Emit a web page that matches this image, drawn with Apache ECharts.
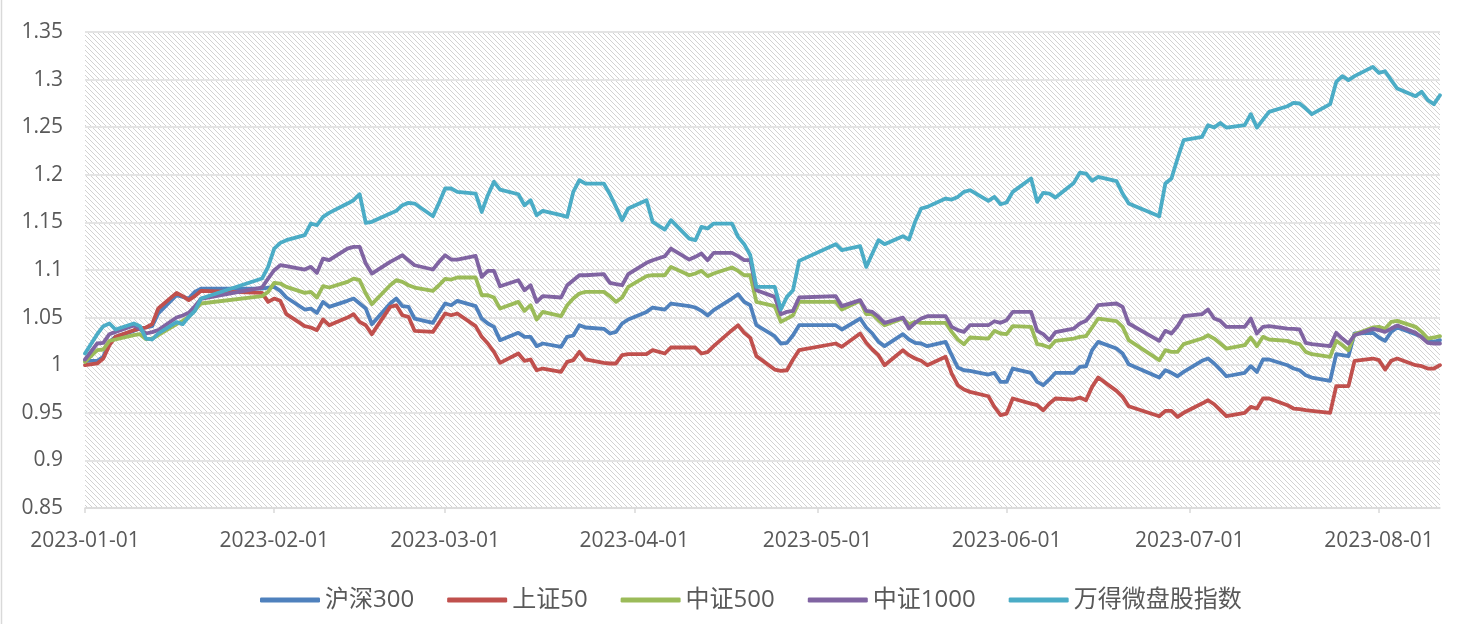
<!DOCTYPE html>
<html>
<head>
<meta charset="utf-8">
<script src="https://cdn.jsdelivr.net/npm/echarts@6/dist/echarts.min.js"></script>
<style>
html,body{margin:0;padding:0;background:#fff;}
#chart{width:1461px;height:624px;}
</style>
</head>
<body>
<div id="chart"></div>
<script>
const dates = [
'2023-01-01','2023-01-03','2023-01-04','2023-01-05','2023-01-06','2023-01-09','2023-01-10','2023-01-11','2023-01-12','2023-01-13','2023-01-16','2023-01-17','2023-01-18','2023-01-19','2023-01-20','2023-01-30','2023-01-31',
'2023-02-01','2023-02-02','2023-02-03','2023-02-06','2023-02-07','2023-02-08','2023-02-09','2023-02-10','2023-02-13','2023-02-14','2023-02-15','2023-02-16','2023-02-17','2023-02-20','2023-02-21','2023-02-22','2023-02-23','2023-02-24','2023-02-27','2023-02-28',
'2023-03-01','2023-03-02','2023-03-03','2023-03-06','2023-03-07','2023-03-08','2023-03-09','2023-03-10','2023-03-13','2023-03-14','2023-03-15','2023-03-16','2023-03-17','2023-03-20','2023-03-21','2023-03-22','2023-03-23','2023-03-24','2023-03-27','2023-03-28','2023-03-29','2023-03-30','2023-03-31',
'2023-04-03','2023-04-04','2023-04-06','2023-04-07','2023-04-10','2023-04-11','2023-04-12','2023-04-13','2023-04-14','2023-04-17','2023-04-18','2023-04-19','2023-04-20','2023-04-21','2023-04-24','2023-04-25','2023-04-26','2023-04-27','2023-04-28',
'2023-05-04','2023-05-05','2023-05-08','2023-05-09','2023-05-10','2023-05-11','2023-05-12','2023-05-15','2023-05-16','2023-05-17','2023-05-18','2023-05-19','2023-05-22','2023-05-23','2023-05-24','2023-05-25','2023-05-26','2023-05-29','2023-05-30','2023-05-31',
'2023-06-01','2023-06-02','2023-06-05','2023-06-06','2023-06-07','2023-06-08','2023-06-09','2023-06-12','2023-06-13','2023-06-14','2023-06-15','2023-06-16','2023-06-19','2023-06-20','2023-06-21','2023-06-26','2023-06-27','2023-06-28','2023-06-29','2023-06-30',
'2023-07-03','2023-07-04','2023-07-05','2023-07-06','2023-07-07','2023-07-10','2023-07-11','2023-07-12','2023-07-13','2023-07-14','2023-07-17','2023-07-18','2023-07-19','2023-07-20','2023-07-21','2023-07-24','2023-07-25','2023-07-26','2023-07-27','2023-07-28','2023-07-31',
'2023-08-01','2023-08-02','2023-08-03','2023-08-04','2023-08-07','2023-08-08','2023-08-09','2023-08-10','2023-08-11'
];

const seriesNames = ['沪深300','上证50','中证500','中证1000','万得微盘股指数'];

const hs300 = [
1.0046,1.0046,1.0088,1.0245,1.0298,1.0361,1.0385,1.0396,1.041,1.0543,1.0735,1.0718,1.07,1.077,1.0805,1.0805,1.0816,
1.0823,1.0781,1.0711,1.0585,1.0595,1.055,1.0665,1.0613,1.0676,1.07,1.0648,1.0595,1.0431,1.0648,1.07,1.062,1.0613,1.049,1.0445,1.055,
1.0648,1.063,1.0676,1.062,1.049,1.0438,1.0403,1.0263,1.034,1.0298,1.0298,1.02,1.0228,1.0193,1.0298,1.0312,1.042,1.0396,1.0382,1.0333,1.035,1.0438,1.048,
1.056,1.0606,1.0585,1.0648,1.062,1.0606,1.0571,1.0522,1.0578,1.07,1.0746,1.0665,1.063,1.042,1.0305,1.0228,1.0235,1.0315,1.042,
1.042,1.0375,1.049,1.0396,1.0333,1.0245,1.02,1.0326,1.027,1.0235,1.0228,1.02,1.0245,1.0105,0.9975,0.9947,0.994,0.9902,0.992,0.9825,
0.9825,0.9965,0.992,0.9825,0.979,0.985,0.992,0.992,0.9982,0.9989,1.0158,1.0245,1.0175,1.0123,1.001,0.987,0.9947,0.992,0.9884,0.993,
1.0046,1.007,1.0018,0.9954,0.9884,0.992,0.999,0.993,1.006,1.006,1.0,0.9965,0.9947,0.9895,0.987,0.9835,1.0116,1.0105,1.0095,1.0333,1.034,
1.0291,1.0256,1.035,1.0396,1.0326,1.0298,1.0263,1.0245,1.0263
];

const sz50 = [
1.0,1.0018,1.007,1.021,1.0298,1.0368,1.0385,1.0396,1.0431,1.0595,1.076,1.0725,1.0683,1.0725,1.0781,1.076,1.0665,
1.07,1.0676,1.0536,1.041,1.0396,1.0368,1.048,1.042,1.05,1.0536,1.0455,1.042,1.0326,1.0613,1.063,1.0525,1.0508,1.0361,1.035,1.0445,
1.0543,1.0525,1.0543,1.041,1.0298,1.0228,1.014,1.0025,1.0123,1.0046,1.006,0.9947,0.9965,0.993,1.0035,1.0053,1.014,1.006,1.0025,1.0018,1.0018,1.0105,1.0116,
1.0116,1.0158,1.0123,1.0186,1.0186,1.0186,1.0123,1.0137,1.02,1.0368,1.042,1.034,1.0287,1.0095,0.9954,0.994,0.9947,1.006,1.0158,
1.0228,1.0193,1.0333,1.0235,1.0165,1.0105,1.0,1.0158,1.0105,1.007,1.0046,1.0,1.0088,0.9912,0.979,0.9744,0.972,0.9674,0.9562,0.9475,
0.9492,0.965,0.9597,0.958,0.9527,0.9597,0.965,0.9639,0.966,0.9632,0.9772,0.987,0.973,0.9667,0.9569,0.9464,0.952,0.952,0.9457,0.95,
0.9597,0.9632,0.959,0.9527,0.9464,0.95,0.9562,0.9545,0.965,0.965,0.958,0.9545,0.9538,0.9527,0.952,0.95,0.978,0.978,0.978,1.0046,1.007,
1.0053,0.9954,1.0046,1.007,1.0,0.999,0.9965,0.9965,1.0
];

const zz500 = [
1.0035,1.0158,1.0165,1.0256,1.027,1.0315,1.0326,1.0273,1.028,1.0315,1.0431,1.0466,1.0508,1.0578,1.0648,1.0725,1.077,
1.0865,1.0858,1.0823,1.076,1.077,1.0711,1.083,1.0816,1.0875,1.091,1.0893,1.0753,1.0641,1.084,1.0893,1.0875,1.084,1.0816,1.0781,1.084,
1.0907,1.09,1.0921,1.0921,1.0735,1.0735,1.0711,1.0595,1.0665,1.0571,1.063,1.048,1.056,1.0515,1.063,1.07,1.0753,1.077,1.077,1.0725,1.0665,1.0711,1.0823,
1.0935,1.0945,1.0945,1.1033,1.0945,1.0963,1.0991,1.0935,1.0963,1.1026,1.0991,1.0945,1.0945,1.0665,1.062,1.0455,1.049,1.0525,1.0665,
1.0665,1.0585,1.0676,1.0536,1.0536,1.0473,1.042,1.049,1.0431,1.0455,1.0445,1.0445,1.0445,1.035,1.027,1.0221,1.0291,1.028,1.0361,1.0333,
1.0326,1.041,1.0403,1.0221,1.021,1.0186,1.0256,1.028,1.0298,1.0305,1.0396,1.049,1.0462,1.0403,1.0263,1.0053,1.0158,1.014,1.014,1.0221,
1.028,1.0315,1.028,1.0228,1.0175,1.021,1.0291,1.02,1.0298,1.027,1.0256,1.0235,1.0221,1.014,1.0116,1.0088,1.0256,1.021,1.0158,1.0326,1.0396,
1.0403,1.0382,1.0455,1.0466,1.0403,1.035,1.028,1.0291,1.0305
];

const zz1000 = [
1.006,1.0228,1.0235,1.0326,1.035,1.0417,1.0378,1.0333,1.0347,1.0368,1.0501,1.0522,1.055,1.062,1.0697,1.0816,1.091,
1.0998,1.105,1.104,1.1005,1.1033,1.097,1.112,1.1103,1.1225,1.1243,1.1243,1.1068,1.0963,1.1085,1.112,1.1155,1.1103,1.105,1.1005,1.1085,
1.1155,1.111,1.111,1.1148,1.0928,1.0991,1.0991,1.083,1.0893,1.0788,1.084,1.0665,1.0725,1.0711,1.084,1.0893,1.0945,1.0945,1.0956,1.0865,1.0851,1.084,1.0956,
1.1075,1.1103,1.1145,1.1225,1.111,1.1138,1.1173,1.1103,1.118,1.118,1.1145,1.1103,1.1103,1.0788,1.0718,1.0536,1.056,1.0571,1.0711,
1.0725,1.062,1.0683,1.0571,1.056,1.0508,1.0445,1.05,1.0385,1.0445,1.049,1.0515,1.0515,1.0403,1.0368,1.035,1.042,1.042,1.0462,1.0445,
1.0473,1.056,1.056,1.0361,1.0326,1.0263,1.0347,1.0385,1.0438,1.0466,1.0543,1.063,1.0648,1.0613,1.0438,1.0256,1.0361,1.0333,1.041,1.0515,
1.0536,1.0585,1.049,1.0466,1.0403,1.0403,1.049,1.0333,1.0403,1.041,1.0385,1.0382,1.0375,1.0235,1.0221,1.02,1.034,1.028,1.0228,1.0315,1.0382,
1.0368,1.035,1.0385,1.0417,1.034,1.0291,1.0235,1.0228,1.0228
];

const microCap = [
1.0123,1.0326,1.041,1.0438,1.0375,1.0438,1.041,1.028,1.027,1.0333,1.0452,1.0431,1.0508,1.0571,1.07,1.091,1.1033,
1.1225,1.1285,1.1313,1.1366,1.1488,1.147,1.1558,1.16,1.1698,1.1733,1.1796,1.1495,1.1506,1.1593,1.1621,1.1681,1.1705,1.1698,1.1565,1.1705,
1.1856,1.1856,1.1821,1.1803,1.161,1.1786,1.1926,1.1845,1.1796,1.168,1.1733,1.1576,1.1621,1.1576,1.1558,1.1821,1.1943,1.1908,1.1908,1.1796,1.1663,1.1523,1.1646,
1.1733,1.1506,1.1425,1.1523,1.133,1.1313,1.1453,1.1436,1.1488,1.1488,1.1348,1.1271,1.1155,1.0823,1.0823,1.0585,1.0718,1.0788,1.1096,
1.1271,1.1208,1.125,1.1033,1.1173,1.1313,1.1271,1.1355,1.132,1.1506,1.1646,1.1663,1.1751,1.174,1.1768,1.1821,1.1838,1.1726,1.1768,1.1691,
1.1709,1.1821,1.1961,1.1716,1.1811,1.1803,1.1761,1.1915,1.2023,1.2013,1.1936,1.1978,1.1933,1.1803,1.1698,1.1565,1.1908,1.1961,1.2171,1.2363,
1.2398,1.2521,1.2496,1.2545,1.2496,1.2521,1.2637,1.2496,1.258,1.2661,1.272,1.2756,1.2749,1.2696,1.2637,1.2742,1.2976,1.3036,1.2994,1.3036,1.3134,
1.3071,1.3088,1.2994,1.2906,1.2826,1.2872,1.2784,1.2742,1.2836
];

const seriesValues = [hs300, sz50, zz500, zz1000, microCap];
const colors = ['#4F81BD','#C0504D','#9BBB59','#8064A2','#4BACC6'];

// hatch pattern for the plot background
const pc = document.createElement('canvas');
pc.width = 5; pc.height = 5;
const g = pc.getContext('2d');
g.fillStyle = '#ffffff';
g.fillRect(0,0,5,5);
g.strokeStyle = '#d2d2d2';
g.lineWidth = 1;
g.beginPath();
g.moveTo(-1,-1); g.lineTo(6,6);
g.moveTo(-1,4); g.lineTo(1,6);
g.moveTo(4,-1); g.lineTo(6,1);
g.stroke();

function pad(n){return n<10?'0'+n:''+n;}

const chart = echarts.init(document.getElementById('chart'), null, {renderer:'canvas'});
const option = {
  animation: false,
  backgroundColor: '#ffffff',
  color: colors,
  grid: {
    left: 85, right: 21, top: 32, bottom: 116,
    show: true,
    backgroundColor: {image: pc, repeat: 'repeat'},
    borderWidth: 0
  },
  legend: {
    left: 255, top: 582,
    icon: 'roundRect',
    itemWidth: 60, itemHeight: 5,
    itemGap: 33,
    data: seriesNames,
    textStyle: {
      fontSize: 24, lineHeight: 26, color: '#595959',
      fontFamily: '"Open Sans","Noto Sans CJK SC",sans-serif'
    }
  },
  xAxis: {
    type: 'time',
    min: '2023-01-01', max: '2023-08-11',
    splitNumber: 8,
    minInterval: 28*86400000,
    maxInterval: 31*86400000,
    axisLine: {show: true, lineStyle: {color: '#d9d9d9', width: 1.5}},
    axisTick: {show: true, length: 5, lineStyle: {color: '#d9d9d9', width: 1.5}},
    splitLine: {show: false},
    axisLabel: {
      color: '#595959', fontSize: 21, fontFamily: '"Open Sans",sans-serif', margin: 23,
      showMinLabel: true, showMaxLabel: false, hideOverlap: false,
      formatter: function(v){ const d = new Date(v); return d.getFullYear()+'-'+pad(d.getMonth()+1)+'-'+pad(d.getDate()); }
    }
  },
  yAxis: {
    type: 'value',
    min: 0.85, max: 1.35, interval: 0.05,
    axisLine: {show: false},
    axisTick: {show: false},
    splitLine: {show: true, lineStyle: {color: '#e4e4e4', width: 2}},
    axisLabel: {
      color: '#595959', fontSize: 21, fontFamily: '"Open Sans",sans-serif', margin: 22,
      formatter: function(v){ return String(parseFloat(v.toFixed(2))); }
    }
  },
  graphic: [{
    type: 'line', shape: {x1: 1.5, y1: 0, x2: 1.5, y2: 624},
    style: {stroke: '#d9d9d9', lineWidth: 1.5}, silent: true
  }],
  series: seriesNames.map(function(name, i){
    return {
      name: name,
      type: 'line',
      data: dates.map(function(d, j){ return [d, seriesValues[i][j]]; }),
      symbol: 'none',
      showSymbol: false,
      smooth: false,
      lineStyle: {width: 3.8, color: colors[i], join: 'round', cap: 'round'},
      itemStyle: {color: colors[i]},
      z: 2 + i
    };
  })
};
chart.setOption(option);
</script>
</body>
</html>
